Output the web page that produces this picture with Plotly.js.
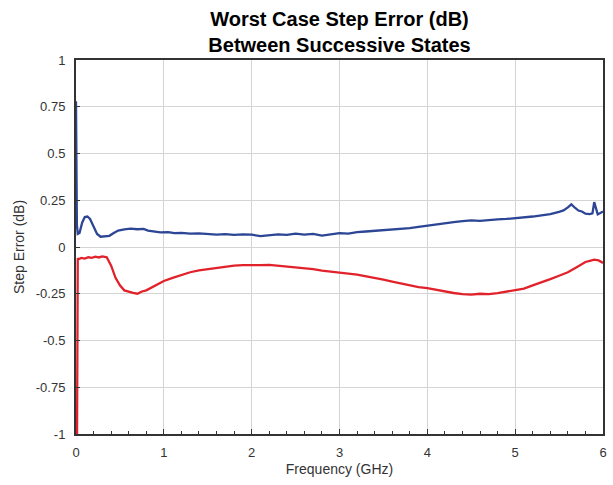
<!DOCTYPE html>
<html>
<head>
<meta charset="utf-8">
<script src="https://cdn.plot.ly/plotly-3.0.1.min.js"></script>
<style>html,body{margin:0;padding:0;background:#fff;}#chart{width:613px;height:485px;}</style>
</head>
<body>
<div id="chart"></div>
<script>
// Frequency (GHz) and step error (dB)
const blueFreq = [0.00,0.005,0.01,0.02,0.04,0.07,0.10,0.13,0.16,0.20,0.24,0.28,0.33,0.38,0.43,0.48,0.55,0.62,0.70,0.77,0.82,0.90,0.96,1.05,1.12,1.20,1.30,1.40,1.50,1.60,1.70,1.80,1.90,2.00,2.10,2.20,2.30,2.40,2.50,2.60,2.70,2.80,2.90,3.00,3.10,3.20,3.30,3.40,3.50,3.60,3.70,3.80,3.90,4.00,4.10,4.20,4.30,4.40,4.50,4.60,4.70,4.80,4.90,5.00,5.10,5.20,5.30,5.40,5.50,5.55,5.60,5.64,5.68,5.72,5.76,5.80,5.85,5.88,5.90,5.92,5.94,5.97,6.00];
const blueErr = [0.78,0.40,0.12,0.07,0.075,0.13,0.16,0.163,0.15,0.11,0.07,0.055,0.057,0.06,0.075,0.088,0.094,0.098,0.095,0.097,0.088,0.083,0.078,0.080,0.074,0.076,0.071,0.073,0.068,0.066,0.069,0.065,0.067,0.066,0.058,0.064,0.068,0.065,0.072,0.066,0.070,0.061,0.068,0.074,0.072,0.080,0.083,0.086,0.092,0.095,0.097,0.101,0.108,0.115,0.120,0.126,0.133,0.138,0.142,0.140,0.146,0.148,0.150,0.153,0.158,0.163,0.169,0.176,0.188,0.196,0.212,0.228,0.21,0.195,0.19,0.178,0.176,0.18,0.24,0.20,0.175,0.182,0.19];
const redFreq = [0.012,0.02,0.03,0.06,0.10,0.14,0.18,0.22,0.26,0.30,0.35,0.40,0.45,0.50,0.55,0.60,0.65,0.70,0.75,0.80,0.85,0.90,1.00,1.10,1.20,1.30,1.40,1.50,1.60,1.70,1.80,1.90,2.00,2.10,2.20,2.30,2.40,2.50,2.60,2.70,2.80,2.90,3.00,3.10,3.20,3.30,3.40,3.50,3.60,3.70,3.80,3.90,4.00,4.10,4.20,4.30,4.40,4.50,4.60,4.70,4.80,4.90,5.00,5.10,5.20,5.30,5.40,5.50,5.60,5.70,5.80,5.85,5.90,5.95,6.00];
const redErr = [-1.0,-0.06,-0.065,-0.058,-0.062,-0.055,-0.058,-0.052,-0.056,-0.050,-0.055,-0.10,-0.165,-0.205,-0.232,-0.24,-0.245,-0.25,-0.238,-0.232,-0.22,-0.205,-0.182,-0.165,-0.148,-0.135,-0.125,-0.118,-0.112,-0.105,-0.100,-0.097,-0.095,-0.097,-0.096,-0.100,-0.102,-0.106,-0.112,-0.118,-0.126,-0.130,-0.136,-0.142,-0.148,-0.156,-0.165,-0.175,-0.185,-0.196,-0.206,-0.214,-0.220,-0.230,-0.240,-0.246,-0.252,-0.255,-0.250,-0.252,-0.247,-0.240,-0.233,-0.222,-0.205,-0.190,-0.172,-0.154,-0.135,-0.108,-0.080,-0.074,-0.068,-0.072,-0.085];
const xTickVals = [0,1,2,3,4,5,6];
const yTickVals = [1,0.75,0.5,0.25,0,-0.25,-0.5,-0.75,-1];
const yTickText = ['1','0.75','0.5','0.25','0','-0.25','-0.5','-0.75','-1'];

const FONT = 'Liberation Sans, Arial, sans-serif';
const traces = [
  {x: blueFreq, y: blueErr, mode: 'lines', line: {color: '#2c4594', width: 2.3}, hoverinfo: 'none'},
  {x: redFreq, y: redErr, mode: 'lines', line: {color: '#e1222b', width: 2.3}, hoverinfo: 'none'}
];
const layout = {
  width: 613, height: 485,
  margin: {l: 75.5, r: 10, t: 60, b: 50.5},
  paper_bgcolor: '#fff', plot_bgcolor: '#fff',
  showlegend: false,
  font: {family: FONT, color: '#333', size: 12},
  title: {
    text: '<b>Worst Case Step Error (dB)<br>Between Successive States</b>',
    font: {family: FONT, size: 20, color: '#000'},
    x: 0.5, xref: 'paper', xanchor: 'center',
    y: 0.947, yref: 'container', yanchor: 'top'
  },
  xaxis: {
    range: [0, 6], tickvals: xTickVals, ticktext: xTickVals.map(String),
    showgrid: true, gridcolor: '#d4d4d4', gridwidth: 1,
    ticks: 'inside', ticklen: 5, tickwidth: 1, tickcolor: '#333',
    minor: {dtick: 0.2, tick0: 0, ticks: 'inside', ticklen: 3, tickcolor: '#333', showgrid: false},
    showline: true, linecolor: '#333', linewidth: 2, mirror: true,
    zeroline: false,
    ticklabelstandoff: 5,
    tickfont: {size: 13, color: '#333'},
    title: {text: 'Frequency (GHz)', font: {size: 14, color: '#333'}, standoff: 6}
  },
  yaxis: {
    range: [-1, 1], tickvals: yTickVals, ticktext: yTickText,
    showgrid: true, gridcolor: '#d4d4d4', gridwidth: 1,
    ticks: 'inside', ticklen: 4, tickwidth: 1, tickcolor: '#333',
    showline: true, linecolor: '#333', linewidth: 2, mirror: true,
    zeroline: false,
    ticklabelstandoff: 6,
    tickfont: {size: 13, color: '#333'},
    title: {text: 'Step Error (dB)', font: {size: 14, color: '#333'}, standoff: 8}
  }
};
Plotly.newPlot('chart', traces, layout, {displayModeBar: false, staticPlot: true});
</script>
</body>
</html>
